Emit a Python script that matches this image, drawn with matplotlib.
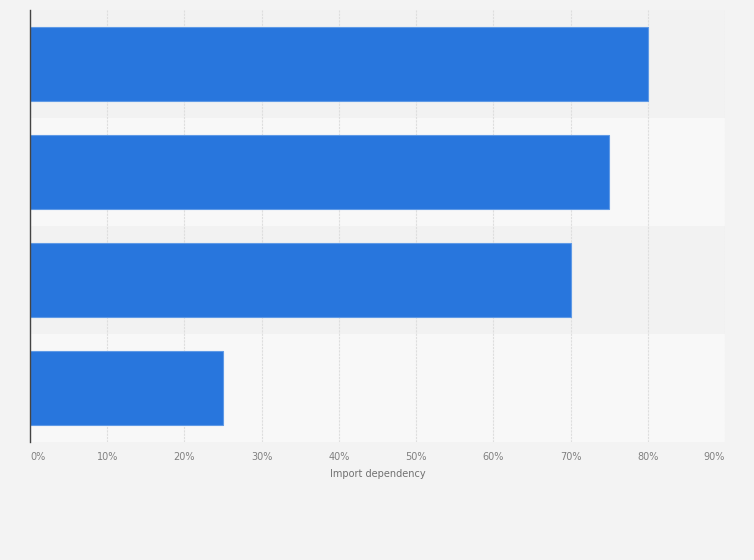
import matplotlib.pyplot as plt

# data (category labels are not shown in the picture)
categories = ['Item 1', 'Item 2', 'Item 3', 'Item 4']
import_dependency = [80, 75, 70, 25]
x_ticks = [0, 10, 20, 30, 40, 50, 60, 70, 80, 90]
x_tick_labels = ['%d%%' % t for t in x_ticks]

fig = plt.figure(figsize=(7.54, 5.6), dpi=100)
fig.patch.set_facecolor('#f3f3f3')
axes = fig.add_axes([30 / 754, 118 / 560, 695 / 754, 432 / 560])  # left, bottom, width, height
axes.set_facecolor('#f3f3f3')

y = list(range(len(categories)))
# alternating background bands
for i in y:
    axes.axhspan(i - 0.5, i + 0.5, color='#f2f2f2' if i % 2 == 0 else '#f8f8f8', zorder=0, lw=0)

axes.barh(y, import_dependency, height=0.69, color='#2876dd', edgecolor='#5f9ae6', linewidth=0.8, zorder=3)

axes.set_xlim(0, 90)
axes.set_ylim(len(categories) - 0.5, -0.5)
axes.set_xticks(x_ticks)
axes.set_xticklabels(x_tick_labels, fontsize=7, color='#808080')
lbls = axes.get_xticklabels()
lbls[0].set_horizontalalignment('left')
lbls[-1].set_horizontalalignment('right')
axes.tick_params(axis='x', length=0, pad=7)
axes.set_yticks([])
axes.grid(True, axis='x', color='#dedede', ls=(0, (2, 1)), lw=0.8, zorder=1)
axes.set_xlabel('Import dependency', fontsize=7, color='#707070', labelpad=5)

for side in ['top', 'right', 'bottom']:
    axes.spines[side].set_visible(False)
axes.spines['left'].set_color('#444444')
axes.spines['left'].set_linewidth(1.0)
axes.spines['left'].set_zorder(4)

plt.savefig('out.png', dpi=100, facecolor=fig.get_facecolor())
